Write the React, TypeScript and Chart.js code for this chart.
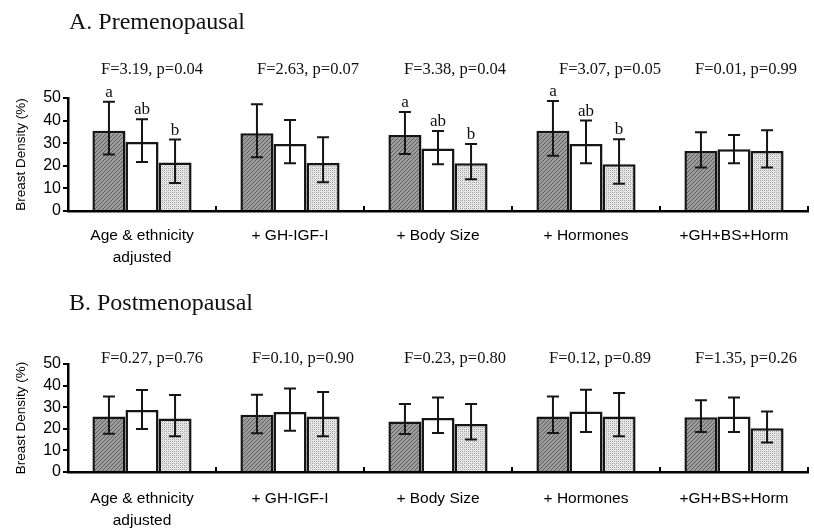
import React, { useEffect, useRef } from "react";
import { Chart, registerables } from "chart.js";
Chart.register(...registerables);

// ---------- data ----------
const categories: (string | string[])[] = [
  ["Age & ethnicity", "adjusted"],
  "+ GH-IGF-I",
  "+ Body Size",
  "+ Hormones",
  "+GH+BS+Horm",
];
const yMin = 0;
const yMax = 50;
const yStep = 10;

// Premenopausal
const preSeries1 = [35.5, 34.4, 33.6, 35.5, 26.5];
const preSeries1Low = [25.0, 23.8, 25.2, 24.5, 19.3];
const preSeries1High = [48.3, 47.2, 43.8, 48.7, 34.8];
const preSeries2 = [30.5, 29.6, 27.7, 29.6, 27.3];
const preSeries2Low = [21.7, 21.1, 20.7, 21.1, 21.1];
const preSeries2High = [40.6, 40.3, 35.4, 40.0, 33.6];
const preSeries3 = [21.5, 21.2, 21.1, 20.7, 26.5];
const preSeries3Low = [12.4, 12.7, 14.0, 12.1, 19.3];
const preSeries3High = [31.6, 32.6, 29.6, 31.7, 35.7];
const preStats = ["F=3.19, p=0.04", "F=2.63, p=0.07", "F=3.38, p=0.04", "F=3.07, p=0.05", "F=0.01, p=0.99"];
const preLetters: (string[] | null)[] = [["a", "ab", "b"], null, ["a", "ab", "b"], ["a", "ab", "b"], null];

// Postmenopausal
const postSeries1 = [25.7, 26.5, 23.4, 25.7, 25.3];
const postSeries1Low = [17.7, 17.9, 17.6, 18.0, 18.5];
const postSeries1High = [35.0, 35.8, 31.5, 35.0, 33.2];
const postSeries2 = [28.7, 27.8, 25.0, 28.0, 25.7];
const postSeries2Low = [19.9, 19.1, 18.0, 18.5, 18.5];
const postSeries2High = [38.0, 38.6, 34.5, 38.1, 34.5];
const postSeries3 = [24.8, 25.7, 22.2, 25.7, 20.2];
const postSeries3Low = [16.5, 16.5, 15.0, 16.5, 13.7];
const postSeries3High = [35.6, 37.0, 31.5, 36.6, 28.0];
const postStats = ["F=0.27, p=0.76", "F=0.10, p=0.90", "F=0.23, p=0.80", "F=0.12, p=0.89", "F=1.35, p=0.26"];
const postLetters: (string[] | null)[] = [null, null, null, null, null];

// ---------- layout (pixels) ----------
const preStatNudge = [10, 18, 17, 24, 12];
const postStatNudge = [10, 13, 17, 14, 12];

const SANS = '"Liberation Sans", Arial, sans-serif';
const SERIF = '"Liberation Serif", "Times New Roman", serif';

function makeHatch(): CanvasPattern | string {
  const c = document.createElement("canvas");
  c.width = 4;
  c.height = 4;
  const g = c.getContext("2d");
  if (!g) return "#888";
  g.fillStyle = "#9c9c9c";
  g.fillRect(0, 0, 4, 4);
  g.strokeStyle = "#5e5e5e";
  g.lineWidth = 1;
  g.beginPath();
  g.moveTo(-1, 5);
  g.lineTo(5, -1);
  g.moveTo(-1, 1);
  g.lineTo(1, -1);
  g.moveTo(3, 5);
  g.lineTo(5, 3);
  g.stroke();
  const p = g.createPattern(c, "repeat");
  return p || "#888";
}

function makeCross(): CanvasPattern | string {
  const c = document.createElement("canvas");
  c.width = 4;
  c.height = 4;
  const g = c.getContext("2d");
  if (!g) return "#ccc";
  g.fillStyle = "#ececec";
  g.fillRect(0, 0, 4, 4);
  g.fillStyle = "#a4a4a4";
  g.fillRect(0, 0, 1, 1);
  g.fillRect(2, 2, 1, 1);
  g.fillRect(0, 2, 1, 1);
  g.fillRect(2, 0, 1, 1);
  g.fillStyle = "#c8c8c8";
  g.fillRect(1, 1, 1, 1);
  g.fillRect(3, 3, 1, 1);
  const p = g.createPattern(c, "repeat");
  return p || "#ccc";
}

const overlayPlugin = {
  id: "overlay",
  afterDatasetsDraw(chart: any, _args: any, opts: any) {
    const { ctx, chartArea } = chart;
    const x = chart.scales.x;
    const y = chart.scales.y;
    ctx.save();
    // upward category-boundary ticks on the x axis
    ctx.strokeStyle = "#000";
    ctx.lineWidth = 2;
    ctx.beginPath();
    const n = categories.length;
    for (let i = 1; i <= n; i++) {
      const bx = i < n ? (x.getPixelForValue(i - 1) + x.getPixelForValue(i)) / 2 : chartArea.right;
      ctx.moveTo(bx, chartArea.bottom);
      ctx.lineTo(bx, chartArea.bottom - 5);
    }
    ctx.stroke();
    for (let d = 0; d < 3; d++) {
      const meta = chart.getDatasetMeta(d);
      meta.data.forEach((el: any, i: number) => {
        const xp = el.x;
        const yh = y.getPixelForValue(opts.highs[d][i]);
        const yl = y.getPixelForValue(opts.lows[d][i]);
        ctx.strokeStyle = "#151515";
        ctx.lineWidth = 2;
        ctx.beginPath();
        ctx.moveTo(xp, yh);
        ctx.lineTo(xp, yl);
        ctx.moveTo(xp - 6, yh);
        ctx.lineTo(xp + 6, yh);
        ctx.moveTo(xp - 6, yl);
        ctx.lineTo(xp + 6, yl);
        ctx.stroke();
        const lt = opts.letters[i];
        if (lt && lt[d]) {
          ctx.font = `17px ${SERIF}`;
          ctx.fillStyle = "#111";
          ctx.textAlign = "center";
          ctx.textBaseline = "alphabetic";
          ctx.fillText(lt[d], xp, yh - 5);
        }
      });
    }
    ctx.font = `16.5px ${SERIF}`;
    ctx.fillStyle = "#111";
    ctx.textAlign = "center";
    ctx.textBaseline = "middle";
    opts.stats.forEach((s: string, i: number) => {
      ctx.fillText(s, x.getPixelForValue(i) + opts.nudge[i], opts.statY);
    });
    ctx.restore();
  },
};

type PanelProps = {
  s: number[][];
  lows: number[][];
  highs: number[][];
  stats: string[];
  letters: (string[] | null)[];
  nudge: number[];
  statY: number;
  padTop: number;
  xHeight: number;
  labelPad: number;
  height: number;
};

function Panel(props: PanelProps) {
  const ref = useRef<HTMLCanvasElement | null>(null);
  useEffect(() => {
    if (!ref.current) return;
    const hatch = makeHatch();
    const cross = makeCross();
    const fills = [hatch, "#ffffff", cross];
    const chart = new Chart(ref.current, {
      type: "bar",
      data: {
        labels: categories,
        datasets: props.s.map((vals, d) => ({
          label: `Group ${d + 1}`,
          data: vals,
          backgroundColor: fills[d] as any,
          borderColor: "#151515",
          borderWidth: 2.5,
          barPercentage: 1,
          categoryPercentage: 0.67,
        })),
      },
      options: {
        animation: false,
        responsive: false,
        devicePixelRatio: 1,
        layout: { padding: { top: props.padTop, right: 6, left: 0, bottom: 0 } },
        plugins: {
          legend: { display: false },
          tooltip: { enabled: false },
          overlay: {
            lows: props.lows,
            highs: props.highs,
            stats: props.stats,
            letters: props.letters,
            nudge: props.nudge,
            statY: props.statY,
          },
        } as any,
        scales: {
          x: {
            offset: true,
            grid: { display: false },
            border: { display: true, color: "#000", width: 2.5 },
            ticks: {
              color: "#000",
              font: { family: SANS, size: 15.5, lineHeight: 1.4 },
              padding: props.labelPad,
              maxRotation: 0,
              autoSkip: false,
            },
            afterFit(scale: any) {
              scale.height = props.xHeight;
            },
          },
          y: {
            min: yMin,
            max: yMax,
            grid: {
              display: true,
              drawOnChartArea: false,
              drawTicks: true,
              tickLength: 5,
              color: "#000",
              lineWidth: 2,
            },
            border: { display: true, color: "#000", width: 2.5 },
            ticks: {
              stepSize: yStep,
              autoSkip: false,
              color: "#000",
              font: { family: SANS, size: 16 },
              padding: 2,
            },
            title: {
              display: true,
              text: "Breast Density (%)",
              color: "#000",
              font: { family: SANS, size: 13.5 },
              padding: { top: 13, bottom: 0 },
            },
            afterFit(scale: any) {
              scale.width = 68;
            },
          },
        },
      },
      plugins: [overlayPlugin as any],
    });
    return () => chart.destroy();
  }, []);
  return <canvas ref={ref} width={814} height={props.height} style={{ display: "block" }} />;
}

export default function App() {
  const titleStyle: React.CSSProperties = {
    position: "absolute",
    left: 69,
    fontFamily: SERIF,
    fontSize: 24,
    lineHeight: 1,
    color: "#111",
    whiteSpace: "nowrap",
  };
  return (
    <div style={{ position: "absolute", left: 0, top: 0, width: 814, height: 530, background: "#fff" }}>
      <div style={{ position: "absolute", left: 0, top: 0 }}>
        <Panel
          s={[preSeries1, preSeries2, preSeries3]}
          lows={[preSeries1Low, preSeries2Low, preSeries3Low]}
          highs={[preSeries1High, preSeries2High, preSeries3High]}
          stats={preStats}
          letters={preLetters}
          nudge={preStatNudge}
          statY={70}
          padTop={98}
          xHeight={64}
          labelPad={6}
          height={275}
        />
      </div>
      <div style={{ position: "absolute", left: 0, top: 265 }}>
        <Panel
          s={[postSeries1, postSeries2, postSeries3]}
          lows={[postSeries1Low, postSeries2Low, postSeries3Low]}
          highs={[postSeries1High, postSeries2High, postSeries3High]}
          stats={postStats}
          letters={postLetters}
          nudge={postStatNudge}
          statY={94}
          padTop={99}
          xHeight={58}
          labelPad={8}
          height={265}
        />
      </div>
      <div style={{ ...titleStyle, top: 9 }}>A. Premenopausal</div>
      <div style={{ ...titleStyle, top: 290 }}>B. Postmenopausal</div>
    </div>
  );
}
